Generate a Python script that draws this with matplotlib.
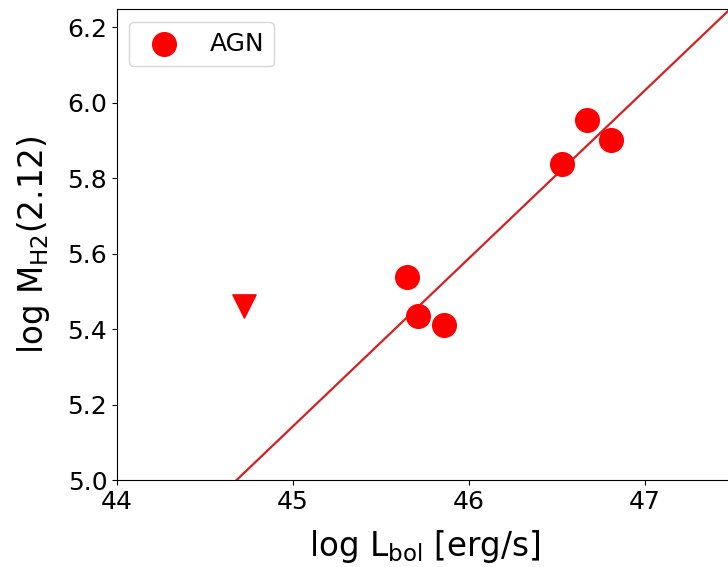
import numpy as np
import matplotlib
matplotlib.use('Agg')
import matplotlib.pyplot as plt

# --- Data ---
agn_lbol = [46.67, 46.81, 46.53, 45.65, 45.71, 45.86]
agn_mh2 = [5.955, 5.90, 5.837, 5.538, 5.434, 5.41]

limit_lbol = [44.72]
limit_mh2 = [5.46]

# linear relation: log M = slope * (log L - x0) + y0
fit_slope = 0.445
fit_x0 = 44.68
fit_y0 = 5.0

fig = plt.figure(figsize=(7.28, 5.67), dpi=100)
ax = fig.add_axes([0.1607, 0.1534, 0.846, 0.8307])

xx = np.array([44.0, 47.6])
ax.plot(xx, fit_y0 + fit_slope * (xx - fit_x0), color='#d42022', lw=1.6)

ax.scatter(agn_lbol, agn_mh2, s=290, color='red', marker='o', label='AGN', zorder=3)
ax.scatter(limit_lbol, limit_mh2, s=280, color='red', marker='v', zorder=3)

ax.set_xlim(44, 47.5)
ax.set_ylim(5.0, 6.248)
ax.set_xticks([44, 45, 46, 47])
ax.set_yticks([5.0, 5.2, 5.4, 5.6, 5.8, 6.0, 6.2])
ax.tick_params(labelsize=18)
ax.spines['right'].set_visible(False)

ax.set_xlabel(r'log L$_{\rm bol}$ [erg/s]', fontsize=23.5, labelpad=10)
ax.set_ylabel(r'log M$_{\rm H2}$(2.12)', fontsize=23.5, labelpad=11)

ax.legend(loc='upper left', fontsize=18)

fig.savefig('out.png', dpi=100)
